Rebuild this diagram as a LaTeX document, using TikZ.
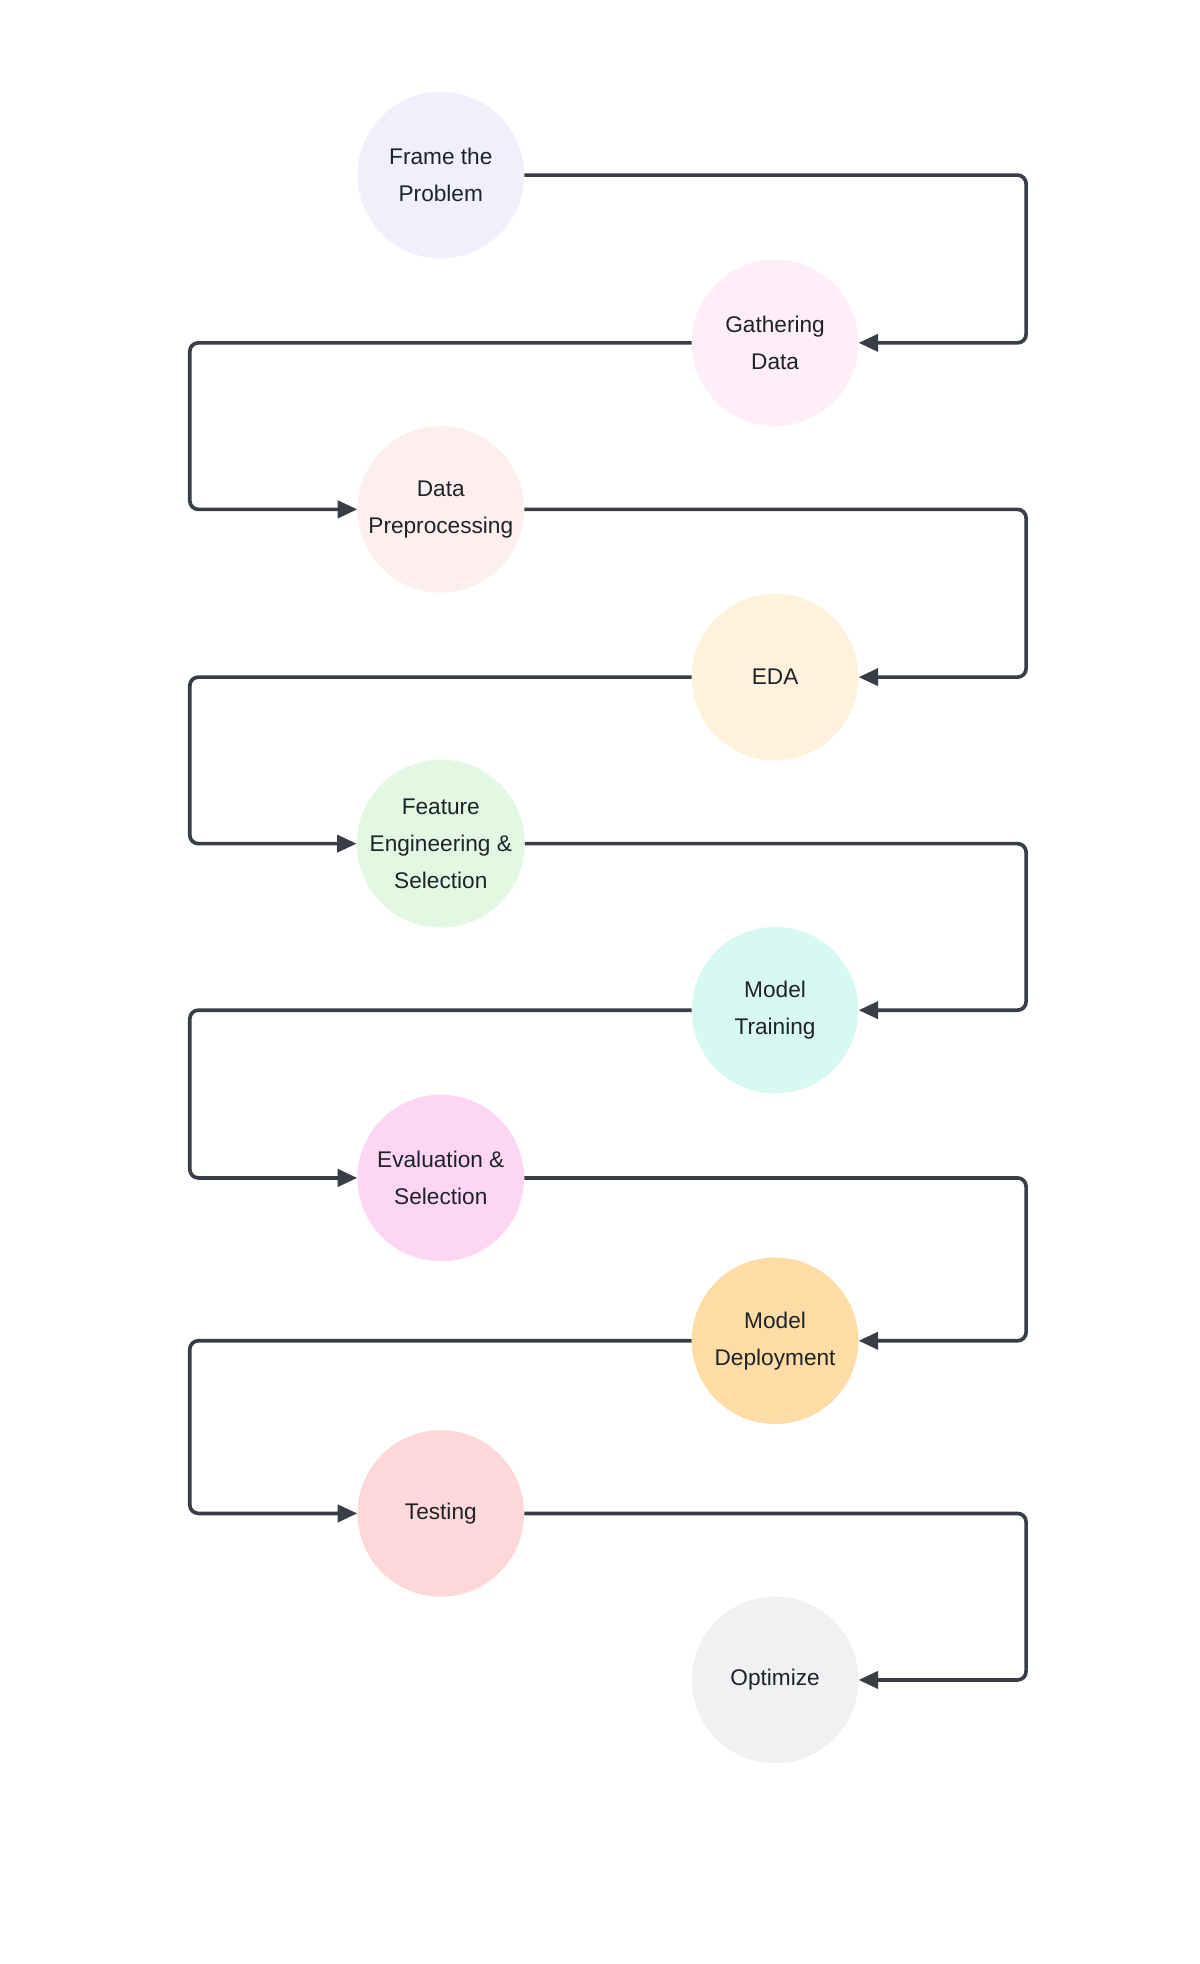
\documentclass[tikz,border=0pt]{standalone}
\usepackage{fontspec}
\setmainfont{Liberation Sans}
\usetikzlibrary{arrows.meta}
\definecolor{ln}{HTML}{393E46}
\definecolor{tx}{HTML}{1F2329}
\tikzset{
 stage/.style={circle,minimum size=136pt,inner sep=0pt,align=center,font=\fontsize{18.5}{30}\selectfont,text=tx},
 flow/.style={draw=ln,line width=3pt,rounded corners=7pt,-{Triangle[length=16pt,width=14pt]}}
}
\begin{document}
\begin{tikzpicture}[x=1pt,y=-1pt]
\useasboundingbox[fill=white] (0,0) rectangle (980,1604);
\node[stage,fill={rgb,255:red,240;green,240;blue,252}] (a) at (360,143) {Frame the\\Problem};
\node[stage,fill={rgb,255:red,253;green,238;blue,248}] (b) at (633,280) {Gathering\\Data};
\node[stage,fill={rgb,255:red,253;green,239;blue,238}] (c) at (360,416) {Data\\Preprocessing};
\node[stage,fill={rgb,255:red,254;green,242;blue,220}] (d) at (633,553) {EDA};
\node[stage,fill={rgb,255:red,226;green,248;blue,226}] (e) at (360,689) {Feature\\Engineering \&\\Selection};
\node[stage,fill={rgb,255:red,216;green,248;blue,242}] (f) at (633,825) {Model\\Training};
\node[stage,fill={rgb,255:red,253;green,214;blue,244}] (g) at (360,962) {Evaluation \&\\Selection};
\node[stage,fill={rgb,255:red,253;green,220;blue,166}] (h) at (633,1095) {Model\\Deployment};
\node[stage,fill={rgb,255:red,253;green,216;blue,216}] (i) at (360,1236) {Testing};
\node[stage,fill={rgb,255:red,240;green,241;blue,243}] (j) at (633,1372) {Optimize};
\draw[flow] (a.east) -- (838,143) -- (838,280) -- (b.east);
\draw[flow] (b.west) -- (155,280) -- (155,416) -- (c.west);
\draw[flow] (c.east) -- (838,416) -- (838,553) -- (d.east);
\draw[flow] (d.west) -- (155,553) -- (155,689) -- (e.west);
\draw[flow] (e.east) -- (838,689) -- (838,825) -- (f.east);
\draw[flow] (f.west) -- (155,825) -- (155,962) -- (g.west);
\draw[flow] (g.east) -- (838,962) -- (838,1095) -- (h.east);
\draw[flow] (h.west) -- (155,1095) -- (155,1236) -- (i.west);
\draw[flow] (i.east) -- (838,1236) -- (838,1372) -- (j.east);
\end{tikzpicture}
\end{document}
